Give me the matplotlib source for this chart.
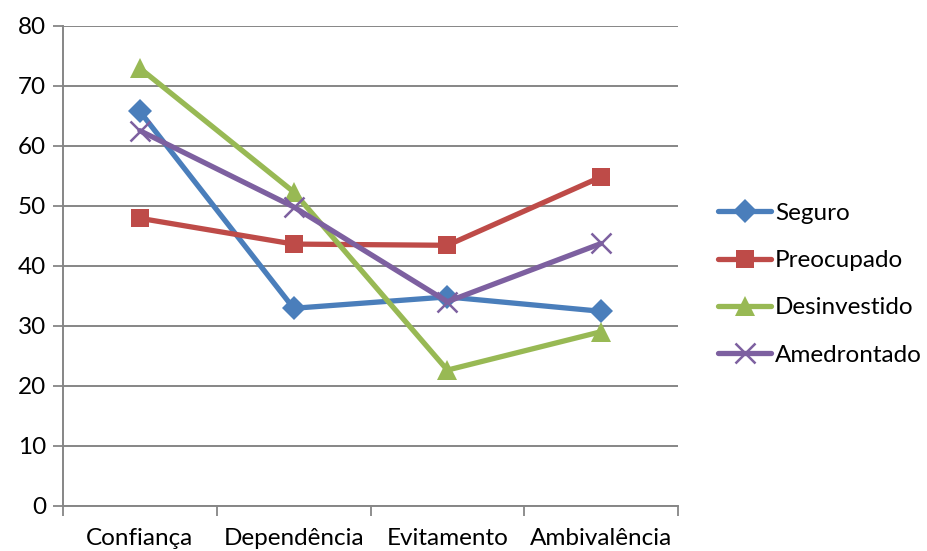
import matplotlib
matplotlib.use("Agg")
import matplotlib.pyplot as plt
import numpy as np

categories = ["Confiança", "Dependência", "Evitamento", "Ambivalência"]
seguro = [65.7, 32.9, 34.8, 32.4]
preocupado = [47.9, 43.6, 43.4, 54.8]
desinvestido = [72.9, 52.3, 22.6, 29.0]
amedrontado = [62.5, 49.8, 34.0, 43.7]
yticks = [0, 10, 20, 30, 40, 50, 60, 70, 80]

plt.rcParams['font.family'] = ['Lato', 'DejaVu Sans']
FS = 17.5

fig = plt.figure(figsize=(9.28, 5.51), dpi=100)
ax = fig.add_axes([0.0679, 0.0822, 0.6627, 0.8712])

x = np.arange(len(categories))
series = [
    ("Seguro", seguro, "#4A7EBB", "D", 12),
    ("Preocupado", preocupado, "#BE4B48", "s", 13),
    ("Desinvestido", desinvestido, "#98B954", "^", 14),
    ("Amedrontado", amedrontado, "#7D60A0", "x", 14),
]
for name, vals, col, m, ms in series:
    kw = dict(markeredgewidth=1.8) if m == "x" else dict(markeredgewidth=0)
    ax.plot(x, vals, color=col, lw=3.8, marker=m, markersize=ms,
            markerfacecolor=col, markeredgecolor=col, label=name,
            solid_capstyle='round', **kw)

ax.set_xlim(-0.5, 3.5)
ax.set_ylim(0, 80)
ax.set_yticks(yticks)
ax.set_xticks(x)
ax.set_xticklabels(categories)
ax.set_xticks(np.arange(-0.5, 4.0, 1.0), minor=True)
ax.tick_params(axis='x', which='major', length=0, pad=16, labelsize=FS)
ax.tick_params(axis='x', which='minor', length=7, width=1.3, color='#868686', direction='out')
ax.tick_params(axis='y', length=7, width=1.3, color='#868686', labelsize=FS, pad=5)

ax.grid(axis='y', color='#868686', lw=1.4)
ax.set_axisbelow(True)
for s in ['top', 'right']:
    ax.spines[s].set_visible(False)
for s in ['left', 'bottom']:
    ax.spines[s].set_color('#868686')
    ax.spines[s].set_linewidth(1.4)

leg = fig.legend(loc='center left', bbox_to_anchor=(0.7737, 0.484), frameon=False,
                 fontsize=FS, handlelength=2.2, handletextpad=0.15, labelspacing=1.08,
                 borderpad=0, borderaxespad=0)

fig.savefig("out.png", dpi=100)
